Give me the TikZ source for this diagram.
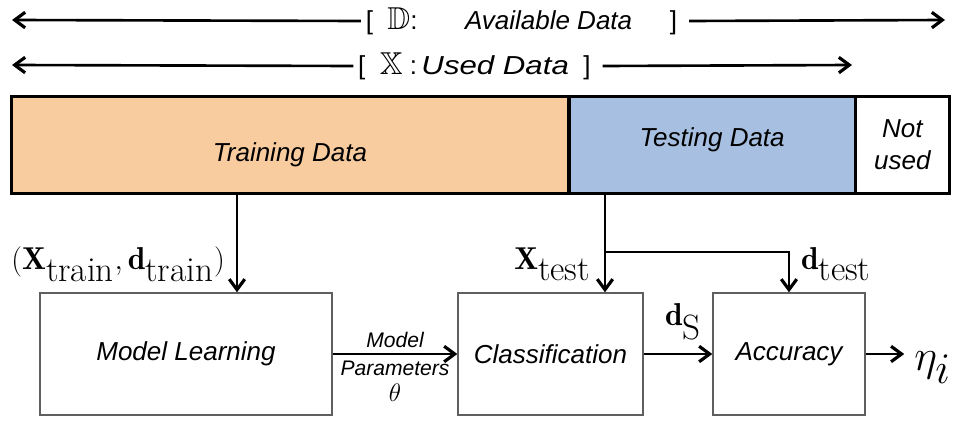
\documentclass[tikz,border=0pt]{standalone}
\usepackage{amssymb}
\usepackage{graphicx}
\usepackage{fontspec}
\setsansfont{Liberation Sans}
\usetikzlibrary{arrows.meta,positioning}

\definecolor{trainorange}{RGB}{249,204,160}
\definecolor{testblue}{RGB}{167,192,225}
\definecolor{boxgray}{RGB}{95,95,95}

% upright subscripts, set large as in the figure
\newcommand{\sublbl}[1]{_{\hbox{\fontsize{20}{20}\selectfont\rmfamily #1}}}
\newcommand{\bbset}[1]{{\fontsize{18}{18}\selectfont$\mathbb{#1}$}}

\begin{document}
\begin{tikzpicture}[x=0.02cm,y=-0.02cm,line width=1.5pt,
                    >={Straight Barb[length=2.1mm,width=3.1mm,line width=1.8pt]},
                    lbl/.style={font=\sffamily\itshape\fontsize{14.8}{17}\selectfont},
                    small/.style={font=\sffamily\itshape\fontsize{12}{14}\selectfont,inner sep=1pt},
                    mth/.style={font=\fontsize{18}{20}\selectfont,inner sep=1pt},
                    datapart/.style={draw,line width=1pt,minimum height=1.92cm,inner sep=0pt,lbl},
                    stage/.style={draw=boxgray,line width=0.8pt,minimum height=2.44cm,lbl}]

  \useasboundingbox (0,0) rectangle (960,429);

  % extent of the data
  \coordinate (availL) at (12,20);
  \coordinate (availR) at (945,20);
  \coordinate (usedL)  at (12,65);
  \coordinate (usedR)  at (852,65);

  \node[lbl,inner xsep=2pt,inner ysep=0pt] (avail) at (525,21)
       {{\upshape[\ \ \bbset{D}:}\quad\ \ \hspace{4pt}Available Data\quad\ \,{\upshape]}\ \ };
  \node[lbl,inner xsep=2pt,inner ysep=0pt] (used) at (478,66)
       {{\upshape[\ \ \bbset{X}\ :\,}\scalebox{1.2}[1]{Used Data}\ \ {\upshape]}\ \ };

  \draw[->] (avail.west) -- (availL);
  \draw[->] (avail.east) -- (availR);
  \draw[->] (used.west)  -- (usedL);
  \draw[->] (used.east)  -- (usedR);

  % the data bar
  \node[datapart,fill=trainorange,minimum width=11.12cm] (train) at (290,145)
       {\raisebox{-5.5pt}[\height][\depth]{Training Data}};
  \node[datapart,fill=testblue,minimum width=5.7cm,anchor=west] (test) at (train.east)
       {\raisebox{3pt}[\height][\depth]{Testing Data}};
  \node[datapart,fill=white,minimum width=1.84cm,anchor=west,align=center] (unused) at (test.east)
       {Not\\[1pt]used};
  \draw[line width=1.8pt] (train.north west) rectangle (unused.south east);

  % processing stages
  \node[stage,minimum width=5.84cm] (learn)    at (186,354)   {Model Learning};
  \node[stage,minimum width=3.7cm]  (classify) at (550.5,354) {Classification};
  \node[stage,minimum width=3.04cm] (accuracy) at (789,354)   {Accuracy};

  % training data into the learner
  \coordinate (trainTap) at (237,0);
  \draw[->] (train.south -| trainTap) -- (learn.north -| trainTap);
  \node[mth,anchor=base east] (trainlbl) at (228,269)
       {$(\mathbf{X}\sublbl{train},\mathbf{d}\sublbl{train})$};

  % testing data into classification and accuracy
  \coordinate (testTap) at (605,0);
  \coordinate (split)   at (605,252);
  \draw[->] (test.south -| testTap) -- (classify.north -| testTap);
  \draw[->] (split) -| (accuracy.north);
  \node[mth,anchor=base east] (xtestlbl) at (594,269) {$\mathbf{X}\sublbl{test}$};
  \node[mth,anchor=base west] (dtestlbl) at (798,269) {$\mathbf{d}\sublbl{test}$};

  % model parameters and outputs
  \draw[->] (learn) -- node[small,above=2pt] (mparam) {Model}
                       node[small,below=2pt,align=center] (mtheta) {Parameters\\[1pt]{\fontsize{14}{14}\selectfont$\theta$}} (classify);
  \draw[->] (classify) -- node[mth,above=6pt,xshift=3pt] (dslbl) {$\mathbf{d}\sublbl{S}$} (accuracy);

  \node[anchor=base west,inner sep=0pt,font=\fontsize{42}{44}\selectfont] (eta) at (913,370) {$\eta_i$};
  \draw[->] (accuracy.east) -- ([xshift=-5pt]accuracy.east -| eta.west);

\end{tikzpicture}
\end{document}
